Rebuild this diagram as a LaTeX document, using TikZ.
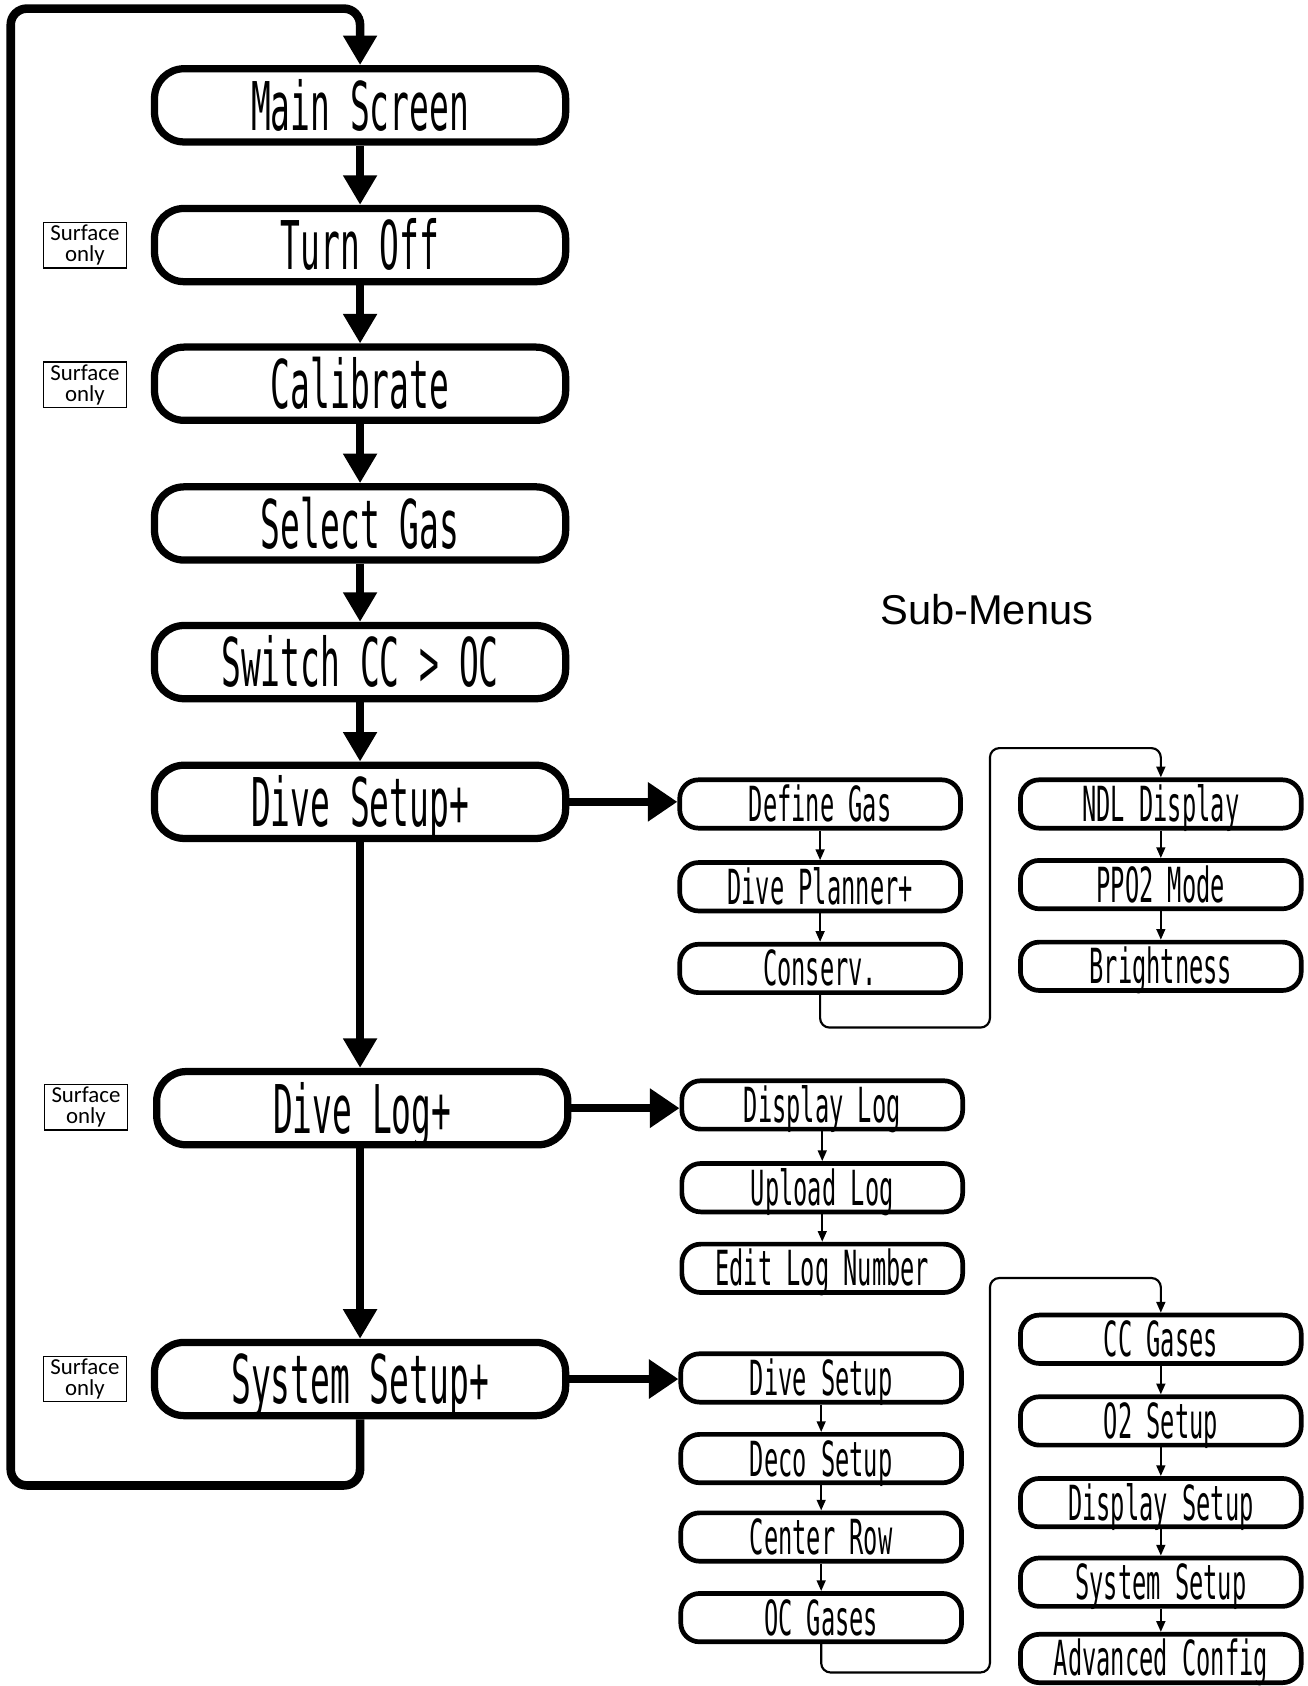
\documentclass[tikz,border=0pt]{standalone}
\usepackage{fontspec}
\setmainfont{Liberation Sans}
\newfontfamily\lcdfont[FakeStretch=0.49]{DejaVu Sans Mono}
\newfontfamily\notefont{Carlito}
\usetikzlibrary{arrows.meta}
\begin{document}
\begin{tikzpicture}[x=0.8pt,y=-0.8pt,
 mainbox/.style={draw, line width=5.4pt, rounded corners=22pt, minimum width=306pt, minimum height=54.5pt, inner sep=0pt, font=\lcdfont\fontsize{50}{50}\selectfont, text height=37pt, text depth=0pt},
 subbox/.style={draw, line width=3.5pt, rounded corners=14pt, minimum width=209pt, minimum height=36pt, inner sep=0pt, font=\lcdfont\fontsize{36}{36}\selectfont, text height=26pt, text depth=0pt},
 note/.style={draw, line width=0.9pt, minimum width=62pt, minimum height=34pt, inner sep=0pt, align=center, font=\notefont\fontsize{17}{15.5}\selectfont},
 bigarrow/.style={line width=6.4pt, -{Triangle[length=22pt,width=24pt]}},
 sidearrow/.style={line width=6.4pt, -{Triangle[length=22pt,width=28pt]}},
 smallarrow/.style={line width=1.6pt, -{Triangle[length=8pt,width=6.5pt]}},
 loopline/.style={line width=6.4pt, rounded corners=12pt, -{Triangle[length=22pt,width=24pt]}},
 thinlink/.style={line width=1.6pt, rounded corners=7pt, -{Triangle[length=8pt,width=6.5pt]}},
]
\useasboundingbox (0,0) rectangle (1216,1568.6);

% main column
\node[mainbox] (main) at (335,98) {Main Screen};
\node[mainbox] (off) at (335,228) {Turn Off};
\node[mainbox] (cal) at (335,357) {Calibrate};
\node[mainbox] (gas) at (335,487) {Select Gas};
\node[mainbox] (sw) at (335,616) {Switch CC > OC};
\node[mainbox] (ds) at (335,746) {Dive Setup+};
\node[mainbox] (log) at (337,1031) {Dive Log+};
\node[mainbox] (sys) at (335,1283) {System Setup+};

% notes
\node[note] (n1) at (79,228) {Surface\\only};
\node[note] (n2) at (79,358) {Surface\\only};
\node[note] (n3) at (80,1030) {Surface\\only};
\node[note] (n4) at (79,1283) {Surface\\only};

\node (title) at (918,567) {\fontsize{31}{31}\selectfont Sub-Menus};

% dive setup submenus
\node[subbox] (dg) at (763,748) {Define Gas};
\node[subbox] (dp) at (763,825) {Dive Planner+};
\node[subbox] (cons) at (763,901) {Conserv.};
\node[subbox] (ndl) at (1080,748) {NDL Display};
\node[subbox] (ppo) at (1080,823) {PPO2 Mode};
\node[subbox] (bri) at (1080,899) {Brightness};

% dive log submenus
\node[subbox] (dl) at (765,1028) {Display Log};
\node[subbox] (ul) at (765,1105) {Upload Log};
\node[subbox] (el) at (765,1180) {Edit Log Number};

% system setup submenus
\node[subbox] (sds) at (764,1282) {Dive Setup};
\node[subbox] (deco) at (764,1357) {Deco Setup};
\node[subbox] (crow) at (764,1430) {Center Row};
\node[subbox] (ocg) at (764,1505) {OC Gases};
\node[subbox] (ccg) at (1080,1246) {CC Gases};
\node[subbox] (o2) at (1080,1322) {O2 Setup};
\node[subbox] (dsp) at (1080,1398) {Display Setup};
\node[subbox] (sss) at (1080,1472) {System Setup};
\node[subbox] (adv) at (1080,1543) {Advanced Config};

% main arrows
\draw[bigarrow] (main.south) -- (off.north);
\draw[bigarrow] (off.south) -- (cal.north);
\draw[bigarrow] (cal.south) -- (gas.north);
\draw[bigarrow] (gas.south) -- (sw.north);
\draw[bigarrow] (sw.south) -- (ds.north);
\draw[bigarrow] (ds.south) -- (ds.south |- log.north);
\draw[bigarrow] (log.south -| sys.north) -- (sys.north);

% loop back
\coordinate (lbot) at (10,1382);
\coordinate (ltop) at (10,8);
\draw[loopline] (sys.south) |- (lbot) -- (ltop) -| (main.north);

% side arrows
\draw[sidearrow] (ds.east) -- (ds.east -| dg.west);
\draw[sidearrow] (log.east) -- (log.east -| dl.west);
\draw[sidearrow] (sys.east) -- (sys.east -| sds.west);

% sub arrows
\draw[smallarrow] (dg.south) -- (dp.north);
\draw[smallarrow] (dp.south) -- (cons.north);
\draw[smallarrow] (ndl.south) -- (ppo.north);
\draw[smallarrow] (ppo.south) -- (bri.north);
\draw[smallarrow] (dl.south) -- (ul.north);
\draw[smallarrow] (ul.south) -- (el.north);
\draw[smallarrow] (sds.south) -- (deco.north);
\draw[smallarrow] (deco.south) -- (crow.north);
\draw[smallarrow] (crow.south) -- (ocg.north);
\draw[smallarrow] (ccg.south) -- (o2.north);
\draw[smallarrow] (o2.south) -- (dsp.north);
\draw[smallarrow] (dsp.south) -- (sss.north);
\draw[smallarrow] (sss.south) -- (adv.north);

% column links
\coordinate (a1) at (921,956);
\coordinate (a2) at (921,696);
\draw[thinlink] (cons.south) |- (a1) -- (a2) -| (ndl.north);
\coordinate (b1) at (921,1556);
\coordinate (b2) at (921,1189);
\draw[thinlink] (ocg.south) |- (b1) -- (b2) -| (ccg.north);
\end{tikzpicture}
\end{document}
